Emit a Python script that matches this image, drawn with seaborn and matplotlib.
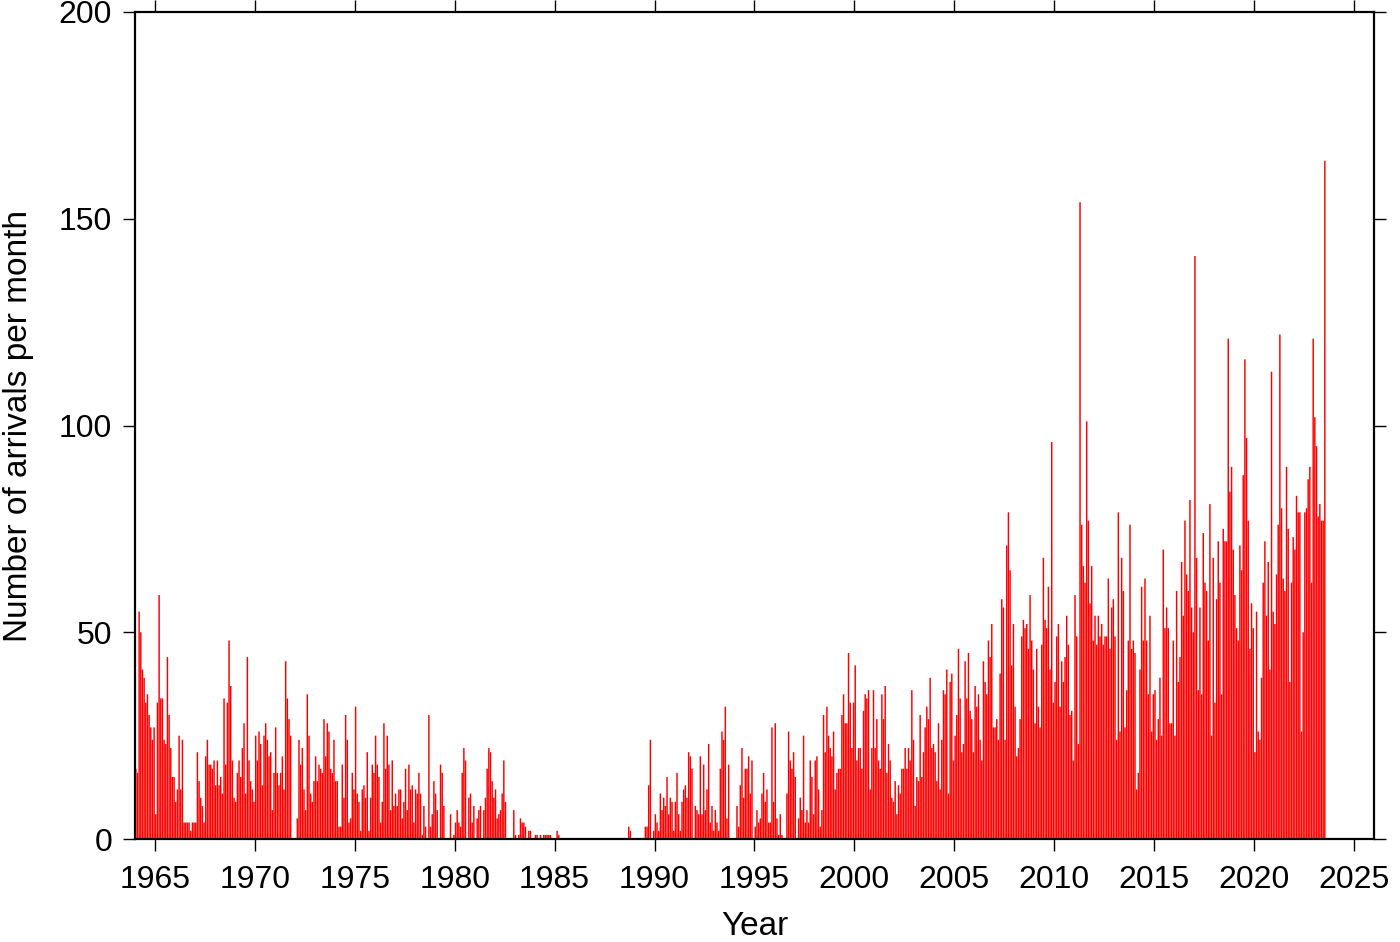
import numpy as np
import pandas as pd
import matplotlib
matplotlib.use("Agg")
import matplotlib.pyplot as plt
import seaborn as sns

# Monthly arrival counts, starting January 1964
counts_1964_1969 = [17,16,55,50,41,39,33,35,30,27,24,27,6,33,59,34,34,24,23,44,30,22,15,15,9,12,25,12,24,4,4,4,4,2,4,4,4,21,14,10,8,4,20,24,18,18,17,19,13,19,13,15,11,34,18,33,48,37,19,10,9,16,19,15]
counts_1969_1974 = [22,28,11,44,19,14,12,9,25,19,26,23,13,25,28,24,20,21,7,16,27,16,13,16,20,12,43,34,29,25,0,0,0,5,24,18,22,12,7,35,25,11,9,14,20,14,18,17,16,29,20,28,26,17,16,24,14,14,3,3,18,10,30,24,4]
counts_1974_1980 = [5,16,12,32,11,9,2,12,13,10,21,2,10,18,16,25,18,15,4,9,28,17,25,18,7,19,8,11,8,12,12,5,9,17,7,18,12,13,4,12,11,16,11,1,8,3,0,30,3,6,14,11,7,0,18,16,8,0,0,0,6,0,1,4]
counts_1980_1985 = [7,4,3,16,22,19,0,10,11,4,8,0,5,7,8,0,7,10,17,22,21,14,10,12,5,6,7,11,19,9,0,0,0,0,7,1,0,1,5,4,4,3,0,2,2,0,0,1,1,0,1,0,1,1,1,1,1,0,0,0,2,1,0,0]
counts_1985_1988 = [0] * 34
counts_1988_1993 = [0,0,0,0,0,3,2,0,0,0,0,0,0,0,0,3,3,13,24,0,2,6,4,2,11,7,10,8,15,6,10,9,2,9,16,6,2,9,12,13,10,21,20,17,0,8,7,6,20,6,18,7,12,23,4,8,2,7,4,2,17]
counts_1993_1998 = [26,24,32,5,18,0,0,0,0,8,3,13,22,10,17,17,20,11,19,0,3,7,4,5,11,16,9,12,4,4,27,9,28,5,1,6,1,0,0,11,26,19,17,21,15,0,5,10,7,25,4,7,4,19,15,6,19,20]
counts_1998_2003 = [12,3,7,30,21,32,25,22,20,26,12,16,17,17,30,35,28,28,45,33,22,33,42,19,22,22,17,31,35,34,36,12,22,36,22,29,19,17,35,29,37,16,23,19,10,9,14,6,13,11,17,17,22,17,22,19,36,24]
counts_2003_2007 = [8,15,14,30,15,21,27,32,29,39,22,23,21,14,28,12,24,36,35,41,11,38,40,19,25,30,46,34,21,23,43,34,45,31,29,21,37,32,35,24,19,43,38,35,48,44,52,27,27,29,24,40,58,56,24,71,79,65]
counts_2007_2012 = [42,52,32,20,22,29,49,53,51,52,46,59,48,41,28,46,32,27,47,68,53,51,61,41,96,33,38,49,52,32,43,38,44,54,47,30,31,19,59,49,23,154,76,66,62,101,77,57,66,48,54,47,54,49,52,47,49,49,63]
counts_2012_2017 = [46,56,58,49,24,79,26,68,60,27,36,48,76,46,48,45,12,16,41,61,48,63,48,35,54,26,35,36,24,29,39,25,70,51,56,51,28,28,48,25,60,38,44,67,54,77,64,60,82,56,50,141,68,36,56,35,74,62]
counts_2017_2022 = [60,48,81,25,68,33,58,72,62,35,75,72,72,121,84,90,70,59,51,48,71,65,88,116,97,77,46,57,51,21,55,26,24,39,62,72,54,67,41,113,55,52,64,76,122,80,63,60,90,75,38,62,73,70,83,79,79,26]
counts_2022_2023 = [50,79,80,87,90,62,121,102,95,78,81,77,77,164]

start_year = 1964.0
xticks = [1965, 1970, 1975, 1980, 1985, 1990, 1995, 2000, 2005, 2010, 2015, 2020, 2025]
yticks = [0, 50, 100, 150, 200]

counts = (counts_1964_1969 + counts_1969_1974 + counts_1974_1980 + counts_1980_1985 +
          counts_1985_1988 + counts_1988_1993 + counts_1993_1998 + counts_1998_2003 +
          counts_2003_2007 + counts_2007_2012 + counts_2012_2017 + counts_2017_2022 +
          counts_2022_2023)
n = len(counts)
# month centres in decimal years
t = np.round(start_year + (np.arange(n) + 0.5) / 12.0, 6)
df = pd.DataFrame({"t": t, "count": counts})

sns.set_style("white")
plt.rcParams["font.family"] = ["Liberation Sans", "DejaVu Sans"]

fig = plt.figure(figsize=(14, 9.42), dpi=100)
ax = fig.add_axes([0.0964, 0.1093, 0.885, 0.878])

sns.barplot(data=df, x="t", y="count", native_scale=True, errorbar=None,
            color="#ff0000", saturation=1, width=0.88, linewidth=0, ax=ax)
for p in ax.patches:
    p.set_snap(False)
    p.set_antialiased(True)

ax.set_xlim(1964, 2026)
ax.set_ylim(0, 200)
ax.set_xticks(xticks)
ax.set_yticks(yticks)
ax.set_xticklabels([str(v) for v in xticks])
ax.set_yticklabels([str(v) for v in yticks])
ax.tick_params(axis="both", which="major", direction="out", length=8.5, width=1.0,
               labelsize=23, pad=8, top=True, right=True, bottom=True, left=True,
               colors="black")
ax.tick_params(axis="x", pad=10)
for s in ax.spines.values():
    s.set_linewidth(1.6)
    s.set_color("black")
ax.set_xlabel("Year", fontsize=24, labelpad=12, color="black")
ax.set_ylabel("Number of arrivals per month", fontsize=24, labelpad=18, color="black")
ax.grid(False)

fig.savefig("out.png", dpi=100)
